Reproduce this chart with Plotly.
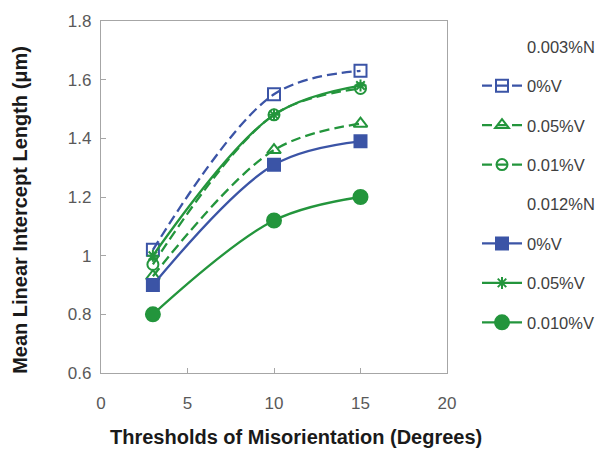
import plotly.graph_objects as go

# Misorientation thresholds (degrees)
thresholds = [3, 10, 15]

# Mean linear intercept length (µm), 0.003%N steels
n003_v0 = [1.02, 1.55, 1.63]
n003_v005 = [0.93, 1.36, 1.45]
n003_v001 = [0.97, 1.48, 1.57]

# Mean linear intercept length (µm), 0.012%N steels
n012_v0 = [0.90, 1.31, 1.39]
n012_v005 = [1.00, 1.48, 1.58]
n012_v010 = [0.80, 1.12, 1.20]

x_ticks = [0, 5, 10, 15, 20]
y_ticks = [0.6, 0.8, 1.0, 1.2, 1.4, 1.6, 1.8]
y_tick_text = ["0.6", "0.8", "1", "1.2", "1.4", "1.6", "1.8"]

X_TITLE = "Thresholds of Misorientation (Degrees)"
Y_TITLE = "Mean Linear Intercept Length (μm)"

BLUE = "#3B54A6"
GREEN = "#23953C"
FONT = "Liberation Sans, Arial, sans-serif"
DASH = "10px,5px"

fig = go.Figure()


def header(name, group):
    # text-only legend heading
    fig.add_trace(go.Scatter(
        x=[None], y=[None], mode="markers", name=name,
        marker=dict(color="rgba(0,0,0,0)", size=1,
                    line=dict(width=0, color="rgba(0,0,0,0)")),
        legendgroup=group, hoverinfo="skip",
    ))


def series(name, ys, color, symbol, dash, group, size=10):
    fig.add_trace(go.Scatter(
        x=thresholds, y=ys, name=name, legendgroup=group,
        mode="lines+markers",
        line=dict(color=color, width=2.3, dash=dash, shape="spline"),
        marker=dict(symbol=symbol, size=size, color=color,
                    line=dict(color=color, width=2)),
    ))


header("0.003%N", "g0")
series("0%V", n003_v0, BLUE, "square-open", DASH, "g1", 12)
series("0.05%V", n003_v005, GREEN, "triangle-up-open", DASH, "g2", 12)
series("0.01%V", n003_v001, GREEN, "circle-open", DASH, "g3", 11)
header("0.012%N", "g4")
series("0%V", n012_v0, BLUE, "square", "solid", "g5", 12)
series("0.05%V", n012_v005, GREEN, "asterisk-open", "solid", "g6", 10)
series("0.010%V", n012_v010, GREEN, "circle", "solid", "g7", 14)

axis_common = dict(
    showline=True, linecolor="#A6A6A6", linewidth=1.2, mirror=True,
    ticks="inside", ticklen=5, tickcolor="#A6A6A6", tickwidth=1,
    showgrid=False, zeroline=False,
    tickfont=dict(family=FONT, size=17, color="#595959"),
)

title_font = dict(family=FONT, size=20, color="#1a1a1a")

fig.update_layout(
    width=600, height=453,
    margin=dict(l=101, r=153, t=17, b=80),
    paper_bgcolor="white", plot_bgcolor="white",
    font=dict(family=FONT),
    xaxis=dict(range=[0, 20], tickvals=x_ticks, ticklabelstandoff=14,
               **axis_common),
    yaxis=dict(range=[0.6, 1.8], tickvals=y_ticks, ticktext=y_tick_text,
               ticklabelstandoff=5, **axis_common),
    legend=dict(
        xref="container", yref="container",
        x=0.795, y=0.936, xanchor="left", yanchor="top",
        traceorder="grouped", tracegroupgap=15, maxheight=440,
        font=dict(family=FONT, size=16.5, color="#404040"),
        bgcolor="rgba(0,0,0,0)", itemwidth=40,
    ),
    showlegend=True,
    annotations=[
        dict(text=f"<b>{X_TITLE}</b>", xref="paper", yref="paper",
             x=(296 - 101) / 346, y=(373 - 438) / 356,
             xanchor="center", yanchor="middle", showarrow=False,
             font=title_font),
        dict(text=f"<b>{Y_TITLE}</b>", xref="paper", yref="paper",
             x=(20 - 101) / 346, y=(373 - 208) / 356, textangle=-90,
             xanchor="center", yanchor="middle", showarrow=False,
             font=title_font),
    ],
)

fig.write_html("out.html")
